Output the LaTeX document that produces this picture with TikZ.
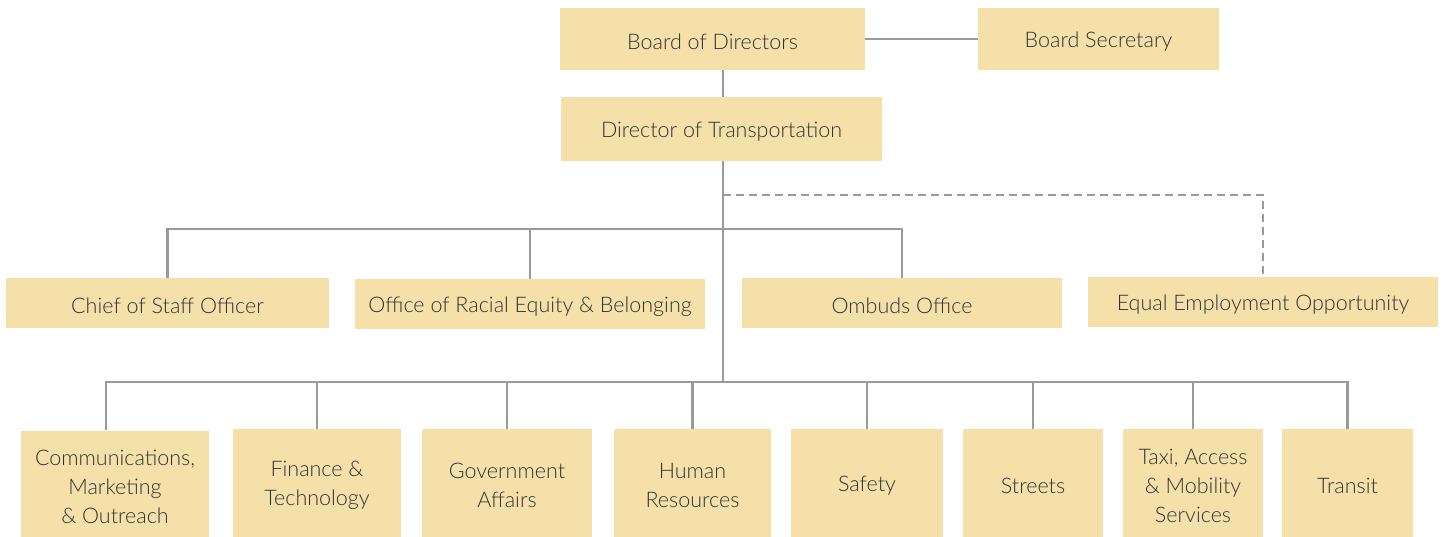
\documentclass[tikz,border=0pt]{standalone}
\usepackage{fontspec}
\setmainfont{Lato Light}
\definecolor{boxfill}{HTML}{F5E0AA}
\definecolor{linegray}{HTML}{9A9A9A}
\definecolor{txt}{HTML}{333333}
\begin{document}
\begin{tikzpicture}[x=1pt,y=-1pt,
  txtstyle/.style={inner sep=0pt, text=txt, font=\fontsize{21.5}{29}\selectfont, align=center, yshift=-2.5pt},
  box/.style={fill=boxfill, inner sep=0pt, label={[txtstyle]center:{#1}}},
  conn/.style={draw=linegray, line width=2.5pt},
  dconn/.style={conn, dash pattern=on 8pt off 5pt}]
\useasboundingbox (0,0) rectangle (1443,537);
% top
\node[box={Board of Directors}, minimum width=305pt, minimum height=62pt] (bod) at (712.5,39) {};
\node[box={Board Secretary}, minimum width=241pt, minimum height=62pt] (bs) at (1098.5,39) {};
\node[box={Director of Transportation}, minimum width=321pt, minimum height=64pt] (dot) at (721.5,129) {};
% row 2
\node[box={Chief of Staff Officer}, minimum width=323pt, minimum height=50pt] (cos) at (167.5,303) {};
\node[box={Office of Racial Equity \& Belonging}, minimum width=350pt, minimum height=50pt] (ore) at (530,304) {};
\node[box={Ombuds Office}, minimum width=320pt, minimum height=50pt] (omb) at (902,303) {};
\node[box={Equal Employment Opportunity}, minimum width=350pt, minimum height=50pt] (eeo) at (1263,302) {};
% row 3
\node[box={Communications,\\Marketing\\\& Outreach}, minimum width=188pt, minimum height=107pt] (comm) at (115,484) {};
\node[box={Finance \&\\Technology}, minimum width=168pt, minimum height=108pt] (fin) at (317,483) {};
\node[box={Government\\Affairs}, minimum width=170pt, minimum height=108pt] (gov) at (507,483) {};
\node[box={Human\\Resources}, minimum width=157pt, minimum height=108pt] (hr) at (692.5,483) {};
\node[box={Safety}, minimum width=152pt, minimum height=108pt] (saf) at (867,483) {};
\node[box={Streets}, minimum width=140pt, minimum height=108pt] (str) at (1033,483) {};
\node[box={Taxi, Access\\\& Mobility\\Services}, minimum width=140pt, minimum height=108pt] (taxi) at (1193,483) {};
\node[box={Transit}, minimum width=131pt, minimum height=108pt] (tra) at (1347.5,483) {};
% coordinates
\coordinate (h1) at (0,229);
\coordinate (h2) at (0,382);
\coordinate (hd) at (0,195);
\coordinate (trunk) at (723,0);
% connectors
\draw[conn] (bod.east) -- (bs.west);
\draw[conn] (trunk |- bod.south) -- (trunk |- dot.north);
\draw[conn] (trunk |- dot.south) -- (trunk |- h2);
\draw[dconn] (trunk |- hd) -| (eeo.north);
\draw[conn] (cos.north) |- (h1 -| omb.north) -- (omb.north);
\draw[conn] (ore.north) -- (ore.north |- h1);
\draw[conn] ([xshift=-9pt]comm.north) |- (h2 -| tra.north) -- (tra.north);
\foreach \n in {fin,gov,hr,saf,str,taxi}
  \draw[conn] (\n.north) -- (\n.north |- h2);
\end{tikzpicture}
\end{document}
